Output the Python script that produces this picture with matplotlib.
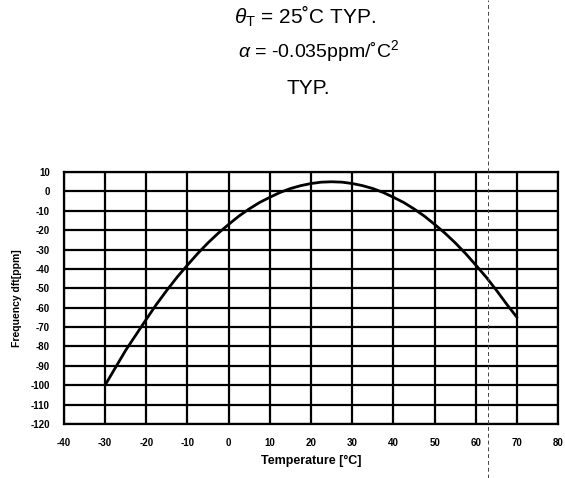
import numpy as np
import matplotlib
matplotlib.use('Agg')
import matplotlib.pyplot as plt
from matplotlib.lines import Line2D

plt.rcParams['font.family'] = 'Liberation Sans'
plt.rcParams['mathtext.fontset'] = 'custom'
plt.rcParams['mathtext.rm'] = 'Liberation Sans'
plt.rcParams['mathtext.it'] = 'Liberation Sans:italic'

# frequency drift, every 2.5 degC
temp = [-30, -27.5, -25, -22.5, -20, -17.5, -15, -12.5, -10, -7.5, -5, -2.5,
        0, 2.5, 5, 7.5, 10, 12.5, 15, 17.5, 20, 22.5, 25, 27.5, 30, 32.5,
        35, 37.5, 40, 42.5, 45, 47.5, 50, 52.5, 55, 57.5, 60, 62.5, 65, 67.5, 70]
drift = [-100, -91, -82, -74, -66, -58.2, -51, -44.2, -38, -32, -26.5, -21.5,
         -17, -12.7, -9, -5.7, -3, -0.5, 1.5, 3, 4.1, 4.8, 5, 4.8, 4.1, 3,
         1.5, -0.5, -3, -5.7, -9, -12.7, -17, -21.5, -26.5, -32, -38, -44.2, -51, -58.2, -65]

x_ticks = list(range(-40, 81, 10))
y_ticks = list(range(-120, 11, 10))

fig = plt.figure(figsize=(5.65, 4.78), dpi=100)
ax = fig.add_axes([0.113, 0.113, 0.875, 0.527])

ax.plot(temp, drift, color='black', lw=2.0, solid_capstyle='round', solid_joinstyle='round')

ax.set_xlim(-40, 80)
ax.set_ylim(-120, 10)
ax.set_xticks(x_ticks)
ax.set_yticks(y_ticks)
ax.set_xticklabels([str(v) for v in x_ticks], fontsize=7, fontweight='bold')
ax.set_yticklabels([str(v) for v in y_ticks], fontsize=7, fontweight='bold')
ax.tick_params(length=0)
ax.tick_params(axis='x', pad=10)
ax.tick_params(axis='y', pad=10)
ax.grid(True, color='black', lw=1.6)
for s in ax.spines.values():
    s.set_linewidth(1.6)

ax.set_xlabel('Temperature [°C]', fontsize=9, fontweight='bold', labelpad=5)
ax.set_ylabel('Frequency dft[ppm]', fontsize=7.5, fontweight='bold', labelpad=6)

fig.text(0.54, 0.966, r'$\theta_\mathrm{T}$ = 25˚C TYP.', fontsize=15, ha='center', va='center')
fig.text(0.565, 0.893, r'$\alpha$ = -0.035ppm/˚C$^{\mathrm{2}}$', fontsize=14, ha='center', va='center')
fig.text(0.545, 0.815, 'TYP.', fontsize=15, ha='center', va='center')

# fold mark on the scanned page
fig.add_artist(Line2D([0.864, 0.864], [0.0, 1.0], transform=fig.transFigure,
                      color='#444444', lw=0.7, ls=(0, (4, 3))))

fig.savefig('out.png', dpi=100)
